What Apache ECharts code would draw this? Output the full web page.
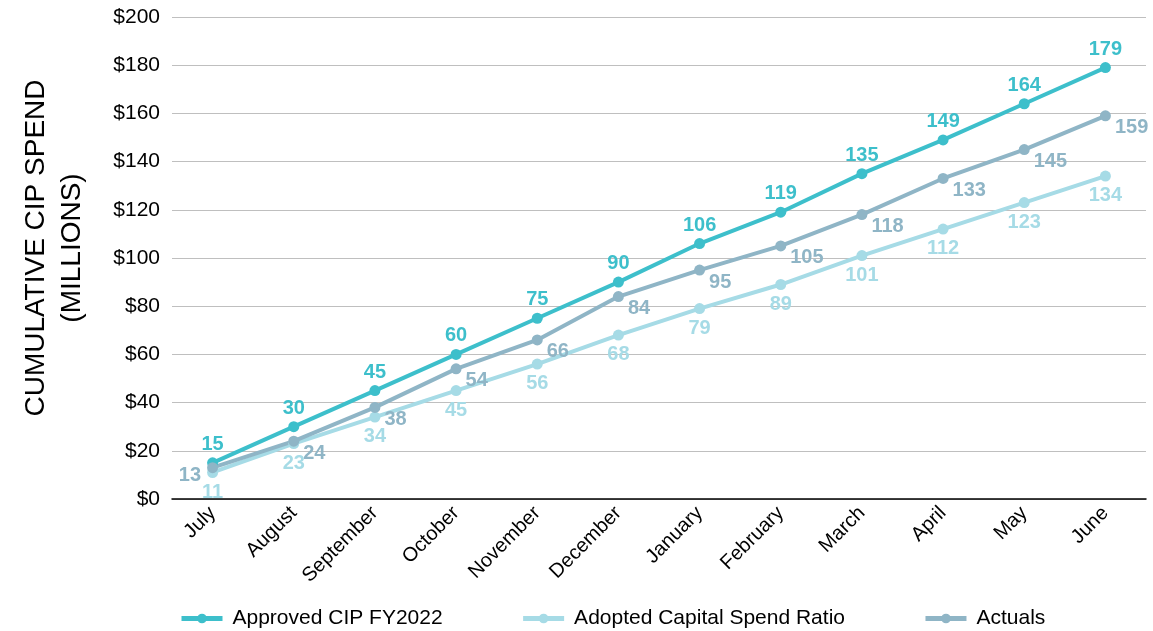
<!DOCTYPE html>
<html>
<head>
<meta charset="utf-8">
<script src="https://cdn.jsdelivr.net/npm/echarts@6/dist/echarts.min.js"></script>
<style>
  html, body { margin: 0; padding: 0; background: #fff; }
  #chart { width: 1153px; height: 631px; }
</style>
</head>
<body>
<div id="chart"></div>
<script>
// data
const months = ['July', 'August', 'September', 'October', 'November', 'December',
  'January', 'February', 'March', 'April', 'May', 'June'];
const approved = [15, 30, 45, 60, 75, 90, 106, 119, 135, 149, 164, 179];
const adopted = [11, 23, 34, 45, 56, 68, 79, 89, 101, 112, 123, 134];
const actuals = [13, 24, 38, 54, 66, 84, 95, 105, 118, 133, 145, 159];
const yTicks = [0, 20, 40, 60, 80, 100, 120, 140, 160, 180, 200];

const cApproved = '#3dbfcb';
const cAdopted = '#a6dbe6';
const cActuals = '#8fb5c6';
const font = 'Arial, "Liberation Sans", sans-serif';

const chart = echarts.init(document.getElementById('chart'));

function lineSeries(name, data, color, label) {
  return {
    name: name,
    type: 'line',
    data: data,
    symbol: 'circle',
    symbolSize: 11,
    lineStyle: { width: 4, color: color },
    itemStyle: { color: color },
    label: Object.assign({
      show: true, color: color, fontFamily: font, fontSize: 20, fontWeight: 'bold'
    }, label),
    z: 3
  };
}

// actuals: first label sits left of the point, rest right-below
const actualsData = actuals.map((v, i) => i === 0
  ? { value: v, label: { position: 'left', distance: 6, offset: [0, 8] } }
  : v);

let option = {
  animation: false,
  textStyle: { fontFamily: font },
  grid: { left: 172, right: 7, top: 17, bottom: 132, containLabel: false },
  legend: {
    top: 603,
    left: 174,
    itemGap: 78,
    itemWidth: 41,
    itemHeight: 12,
    lineStyle: { width: 5 },
    textStyle: { fontSize: 21, color: '#000', fontFamily: font, padding: [0, 0, 0, 5] },
    data: ['Approved CIP FY2022', 'Adopted Capital Spend Ratio', 'Actuals']
  },
  xAxis: {
    type: 'category',
    data: months,
    boundaryGap: true,
    axisLine: { lineStyle: { color: '#000', width: 1.5 } },
    axisTick: { show: false },
    axisLabel: { rotate: 45, fontSize: 20, color: '#000', margin: 11, interval: 0 }
  },
  yAxis: {
    type: 'value',
    min: yTicks[0],
    max: yTicks[yTicks.length - 1],
    interval: 20,
    name: 'CUMULATIVE CIP SPEND\n(MILLIONS)',
    nameLocation: 'middle',
    nameRotate: 90,
    nameGap: 82,
    nameTextStyle: { fontSize: 28, color: '#000', lineHeight: 36, padding: [0, 0, 0, 20] },
    axisLine: { show: false },
    axisTick: { show: false },
    splitLine: { lineStyle: { color: '#bfbfbf', width: 1 } },
    axisLabel: { formatter: '${value}', fontSize: 21, color: '#000', margin: 12 }
  },
  series: [
    lineSeries('Approved CIP FY2022', approved, cApproved, { position: 'top', distance: 3 }),
    lineSeries('Adopted Capital Spend Ratio', adopted, cAdopted, { position: 'bottom', distance: 4 }),
    lineSeries('Actuals', actualsData, cActuals, { position: 'right', distance: 4, offset: [0, 12] })
  ]
};

option && chart.setOption(option);
</script>
</body>
</html>
